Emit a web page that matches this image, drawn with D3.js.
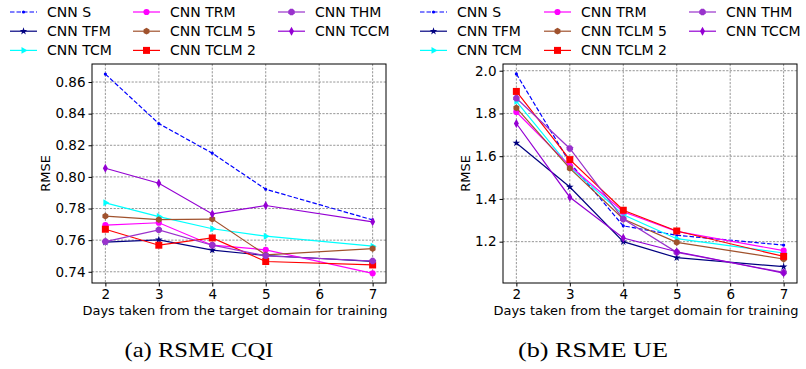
<!DOCTYPE html>
<html>
<head>
<meta charset="utf-8">
<script src="https://cdn.jsdelivr.net/npm/d3@7"></script>
<style>
  body { margin: 0; background: #fff; }
  svg text { font-family: "DejaVu Sans", sans-serif; fill: #000; }
  .caption { font-family: "Liberation Serif", "Times New Roman", serif; }
</style>
</head>
<body>
<div id="chart"></div>
<script>
// RMSE vs days taken from target domain, two panels

const days = [2, 3, 4, 5, 7]
const xTicks = [2, 3, 4, 5, 6, 7]

const seriesNames = ["CNN S", "CNN TFM", "CNN TCM", "CNN TRM", "CNN TCLM 5", "CNN TCLM 2", "CNN THM", "CNN TCCM"]

// panel (a) RSME CQI
const cqiS     = [0.865, 0.8337, 0.815, 0.7922, 0.7728]
const cqiTFM   = [0.7587, 0.7602, 0.7537, 0.7503, 0.7466]
const cqiTCM   = [0.7836, 0.7749, 0.7672, 0.7625, 0.7562]
const cqiTRM   = [0.7695, 0.7710, 0.7568, 0.7539, 0.7390]
const cqiTCLM5 = [0.7752, 0.7730, 0.7733, 0.7507, 0.7547]
const cqiTCLM2 = [0.7669, 0.7568, 0.7614, 0.7465, 0.7443]
const cqiTHM   = [0.7591, 0.7665, 0.7568, 0.7501, 0.7468]
const cqiTCCM  = [0.8055, 0.7960, 0.7766, 0.7819, 0.7716]
const cqiTicks = [0.74, 0.76, 0.78, 0.80, 0.82, 0.84, 0.86]

// panel (b) RSME UE
const ueS     = [1.985, 1.570, 1.274, 1.230, 1.184]
const ueTFM   = [1.662, 1.456, 1.200, 1.125, 1.083]
const ueTCM   = [1.857, 1.550, 1.326, 1.214, 1.147]
const ueTRM   = [1.807, 1.555, 1.340, 1.248, 1.158]
const ueTCLM5 = [1.826, 1.543, 1.306, 1.197, 1.119]
const ueTCLM2 = [1.903, 1.584, 1.347, 1.250, 1.131]
const ueTHM   = [1.871, 1.636, 1.306, 1.150, 1.056]
const ueTCCM  = [1.753, 1.408, 1.217, 1.153, 1.053]
const ueTicks = [1.2, 1.4, 1.6, 1.8, 2.0]

const colors = ["#0000ff", "#000080", "#00ffff", "#ff00ff", "#a0522d", "#ff0000", "#9932cc", "#9400d3"]
const markers = ["point", "star", "triright", "circle", "hexagon", "square", "octagon", "thindiamond"]

const svg = d3.select("#chart").append("svg")
    .attr("width", 806)
    .attr("height", 369)

// marker path builders
function polygon(n, r, rot) {
    let pts = []
    for (let k = 0; k < n; k++) {
        let a = rot + k * 2 * Math.PI / n
        pts.push([r * Math.cos(a), r * Math.sin(a)])
    }
    return "M" + pts.map(p => p.join(",")).join("L") + "Z"
}
function markerPath(type) {
    switch (type) {
        case "point": return d3.symbol(d3.symbolCircle, 8)()
        case "circle": return d3.symbol(d3.symbolCircle, 30)()
        case "square": return "M-3.5,-3.5L3.5,-3.5L3.5,3.5L-3.5,3.5Z"
        case "star": return d3.symbol(d3.symbolStar, 18)()
        case "hexagon": return polygon(6, 3.4, -Math.PI / 2)
        case "octagon": return polygon(8, 3.5, Math.PI / 8)
        case "triright": return polygon(3, 4, 0)
        case "thindiamond": return "M0,-4.5L2.5,0L0,4.5L-2.5,0Z"
    }
}

function drawPanel(opts) {
    const { left, right, top, bottom, yDomain, yTicks, yFmt, data, legendX } = opts

    const x = d3.scaleLinear().domain([1.75, 7.25]).range([left, right])
    const y = d3.scaleLinear().domain(yDomain).range([bottom, top])

    const g = svg.append("g")

    // grid
    g.append("g").selectAll("line.vx").data(xTicks).join("line")
        .attr("x1", d => x(d)).attr("x2", d => x(d))
        .attr("y1", top).attr("y2", bottom)
        .attr("stroke", "#8a8a8a").attr("stroke-width", 0.9)
        .attr("stroke-dasharray", "2.2,1.4")
    g.append("g").selectAll("line.hy").data(yTicks).join("line")
        .attr("x1", left).attr("x2", right)
        .attr("y1", d => y(d)).attr("y2", d => y(d))
        .attr("stroke", "#8a8a8a").attr("stroke-width", 0.9)
        .attr("stroke-dasharray", "2.2,1.4")

    // lines + markers
    const line = d3.line().x((d, i) => x(days[i])).y(d => y(d))
    data.forEach((vals, s) => {
        g.append("path")
            .datum(vals)
            .attr("d", line)
            .attr("fill", "none")
            .attr("stroke", colors[s])
            .attr("stroke-width", 1.2)
            .attr("stroke-dasharray", s === 0 ? "4.5,2" : null)
        g.append("g").selectAll("path").data(vals).join("path")
            .attr("d", markerPath(markers[s]))
            .attr("transform", (d, i) => `translate(${x(days[i])},${y(d)})`)
            .attr("fill", colors[s])
    })

    // axes
    const xAxis = d3.axisBottom(x).tickValues(xTicks).tickFormat(d3.format("d")).tickSize(3.5).tickPadding(3)
    g.append("g")
        .attr("transform", `translate(0,${bottom})`)
        .call(xAxis)
        .call(a => a.select(".domain").remove())
        .call(a => a.selectAll("text").attr("font-size", "13.5px").attr("font-family", "DejaVu Sans"))

    const yAxis = d3.axisLeft(y).tickValues(yTicks).tickFormat(yFmt).tickSize(3.5).tickPadding(3)
    g.append("g")
        .attr("transform", `translate(${left},0)`)
        .call(yAxis)
        .call(a => a.select(".domain").remove())
        .call(a => a.selectAll("text").attr("font-size", "13.5px").attr("font-family", "DejaVu Sans"))

    g.append("rect")
        .attr("x", left).attr("y", top)
        .attr("width", right - left).attr("height", bottom - top)
        .attr("fill", "none").attr("stroke", "#000").attr("stroke-width", 1)

    g.append("text")
        .attr("x", (left + right) / 2 - 4)
        .attr("y", 315)
        .attr("text-anchor", "middle")
        .attr("font-size", "13px")
        .attr("textLength", 305)
        .attr("lengthAdjust", "spacingAndGlyphs")
        .text("Days taken from the target domain for training")

    g.append("text")
        .attr("transform", `translate(${opts.ylabX},${(top + bottom) / 2}) rotate(-90)`)
        .attr("text-anchor", "middle")
        .attr("font-size", "13px")
        .text("RMSE")

    // legend, column-major 3 rows
    seriesNames.forEach((name, s) => {
        const col = Math.floor(s / 3), row = s % 3
        const lx = legendX[col], ly = 12 + row * 19.2
        const lg = g.append("g").attr("transform", `translate(${lx},${ly})`)
        lg.append("line")
            .attr("x1", 0).attr("x2", 27)
            .attr("stroke", colors[s]).attr("stroke-width", 1.2)
            .attr("stroke-dasharray", s === 0 ? "4.5,2" : null)
        lg.append("path")
            .attr("d", markerPath(markers[s]))
            .attr("transform", "translate(13.5,0)")
            .attr("fill", colors[s])
        lg.append("text")
            .attr("x", 37).attr("y", 0)
            .attr("dy", "0.36em")
            .attr("font-size", "14px")
            .text(name)
    })

    svg.append("text")
        .attr("class", "caption")
        .attr("x", opts.capX)
        .attr("y", 357)
        .attr("text-anchor", "middle")
        .attr("font-size", "21px")
        .attr("textLength", opts.capW)
        .attr("lengthAdjust", "spacingAndGlyphs")
        .text(opts.caption)
}

drawPanel({
    left: 92, right: 386, top: 64, bottom: 283,
    yDomain: [0.7329, 0.8714], yTicks: cqiTicks, yFmt: d3.format(".2f"),
    data: [cqiS, cqiTFM, cqiTCM, cqiTRM, cqiTCLM5, cqiTCLM2, cqiTHM, cqiTCCM],
    legendX: [10, 133, 278], ylabX: 50, capX: 199, capW: 149, caption: "(a) RSME CQI"
})

drawPanel({
    left: 503, right: 797, top: 64, bottom: 283,
    yDomain: [1.0066, 2.0314], yTicks: ueTicks, yFmt: d3.format(".1f"),
    data: [ueS, ueTFM, ueTCM, ueTRM, ueTCLM5, ueTCLM2, ueTHM, ueTCCM],
    legendX: [420, 544, 689], ylabX: 470, capX: 593, capW: 150, caption: "(b) RSME UE"
})
</script>
</body>
</html>
